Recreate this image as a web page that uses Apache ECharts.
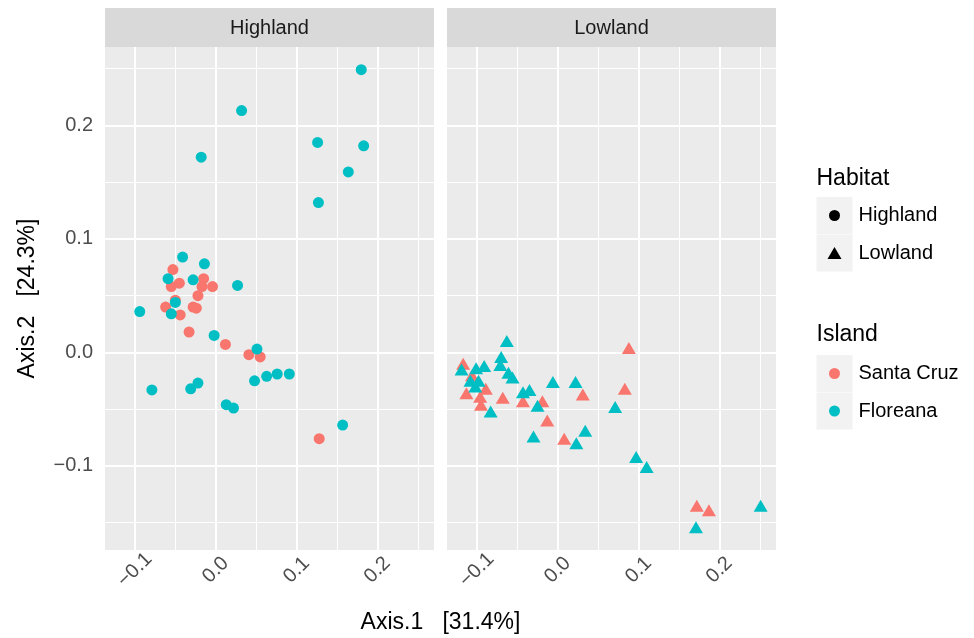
<!DOCTYPE html>
<html>
<head>
<meta charset="utf-8">
<script src="https://cdn.jsdelivr.net/npm/echarts@6/dist/echarts.min.js"></script>
<style>
html,body{margin:0;padding:0;background:#fff;}
#chart{width:974px;height:638px;}
</style>
</head>
<body>
<div id="chart"></div>
<script>
// ---- data ----
const panels = ['Highland', 'Lowland'];
const islands = ['Santa Cruz', 'Floreana'];
const islandColors = ['#F8766D', '#00BFC4'];

const xTicks = [-0.1, 0.0, 0.1, 0.2];
const yTicks = [-0.1, 0.0, 0.1, 0.2];
const xMinor = [-0.05, 0.05, 0.15, 0.25];
const yMinor = [-0.15, -0.05, 0.05, 0.15, 0.25];
const XMIN = -0.137, XMAX = 0.270, YMIN = -0.174, YMAX = 0.269;

// Highland, Santa Cruz
const hscX = [-0.053,-0.045,-0.055,-0.015,-0.017,-0.004,-0.022,-0.050,-0.062,-0.028,-0.024,-0.044,-0.033,0.012,0.041,0.055,0.128];
const hscY = [0.073,0.061,0.058,0.065,0.058,0.058,0.050,0.046,0.040,0.040,0.039,0.033,0.018,0.007,-0.002,-0.004,-0.076];
// Highland, Floreana
const hflX = [0.180,0.032,-0.018,0.126,0.183,0.164,0.127,-0.041,-0.014,-0.059,-0.028,0.027,-0.050,-0.094,-0.055,-0.002,0.051,-0.079,-0.031,-0.022,0.048,0.063,0.076,0.091,0.013,0.022,0.157];
const hflY = [0.249,0.213,0.172,0.185,0.182,0.159,0.132,0.084,0.078,0.065,0.064,0.059,0.044,0.036,0.034,0.015,0.003,-0.033,-0.032,-0.027,-0.025,-0.021,-0.019,-0.019,-0.046,-0.049,-0.064];
// Lowland, Santa Cruz
const lscX = [0.088,-0.117,-0.106,0.083,-0.113,-0.089,-0.096,-0.095,-0.068,-0.043,-0.019,0.031,-0.013,0.008,0.172,0.187];
const lscY = [0.004,-0.010,-0.020,-0.032,-0.036,-0.032,-0.039,-0.046,-0.040,-0.043,-0.043,-0.037,-0.060,-0.076,-0.135,-0.139];
// Lowland, Floreana
const lflX = [-0.063,-0.070,-0.071,-0.091,-0.101,-0.119,-0.061,-0.056,-0.108,-0.098,-0.102,-0.006,0.022,-0.035,-0.043,-0.025,-0.083,0.071,-0.030,0.034,0.023,0.097,0.110,0.251,0.171];
const lflY = [0.010,-0.004,-0.011,-0.012,-0.014,-0.015,-0.018,-0.022,-0.025,-0.025,-0.030,-0.026,-0.026,-0.033,-0.035,-0.047,-0.052,-0.048,-0.074,-0.069,-0.080,-0.092,-0.101,-0.135,-0.154];

const xTitle = 'Axis.1   [31.4%]';
const yTitle = 'Axis.2   [24.3%]';

// ---- build ----
const FONT = '"Liberation Sans", Arial, Helvetica, sans-serif';
const zip = (xs, ys) => xs.map((x, i) => [x, ys[i]]);
const fmt = v => (v < 0 ? '\u2212' : '') + Math.abs(v).toFixed(1);

const gridLeft = [105, 447], gridTop = 47, gridW = 329, gridH = 503;

const grids = gridLeft.map(l => ({
  left: l, top: gridTop, width: gridW, height: gridH,
  show: true, backgroundColor: '#EBEBEB', borderWidth: 0, containLabel: false
}));

const xAxes = [0, 1].map(g => ({
  type: 'value', gridIndex: g, min: XMIN, max: XMAX,
  axisLine: { show: false },
  splitLine: { show: false },
  axisTick: { show: true, customValues: xTicks, length: 6, lineStyle: { color: '#333333', width: 1.6 } },
  axisLabel: {
    show: true, customValues: xTicks, rotate: 45, align: 'center', verticalAlign: 'middle',
    margin: 20, fontSize: 20, fontFamily: FONT, color: '#4D4D4D', formatter: fmt
  }
}));

const yAxes = [0, 1].map(g => ({
  type: 'value', gridIndex: g, min: YMIN, max: YMAX, show: g === 0,
  axisLine: { show: false },
  splitLine: { show: false },
  axisTick: { show: g === 0, customValues: yTicks, length: 5, lineStyle: { color: '#333333', width: 1.6 } },
  axisLabel: {
    show: g === 0, customValues: yTicks, margin: 12, fontSize: 20, fontFamily: FONT,
    color: '#4D4D4D', formatter: fmt
  }
}));

function gridLines(g) {
  const major = { color: '#FFFFFF', width: 2, type: 'solid' };
  const minor = { color: '#FFFFFF', width: 1, type: 'solid' };
  const data = [];
  yMinor.forEach(v => data.push({ yAxis: v, lineStyle: minor }));
  xMinor.forEach(v => data.push({ xAxis: v, lineStyle: minor }));
  yTicks.forEach(v => data.push({ yAxis: v, lineStyle: major }));
  xTicks.forEach(v => data.push({ xAxis: v, lineStyle: major }));
  return {
    type: 'scatter', xAxisIndex: g, yAxisIndex: g, data: [], z: 1, silent: true,
    markLine: {
      z: 1, silent: true, symbol: ['none', 'none'], label: { show: false },
      emphasis: { disabled: true }, animation: false, data: data
    }
  };
}

const groups = [
  { g: 0, island: 0, xs: hscX, ys: hscY, sym: 'circle' },
  { g: 0, island: 1, xs: hflX, ys: hflY, sym: 'circle' },
  { g: 1, island: 0, xs: lscX, ys: lscY, sym: 'triangle' },
  { g: 1, island: 1, xs: lflX, ys: lflY, sym: 'triangle' }
];

const series = [gridLines(0), gridLines(1)].concat(groups.map(s => ({
  type: 'scatter', name: panels[s.g] + ' ' + islands[s.island],
  xAxisIndex: s.g, yAxisIndex: s.g, z: 6 + s.island,
  symbol: s.sym, symbolSize: s.sym === 'circle' ? 11 : [14, 12],
  itemStyle: { color: islandColors[s.island], opacity: 1 },
  emphasis: { disabled: true },
  data: zip(s.xs, s.ys)
})));

const graphic = [];
panels.forEach((p, i) => {
  graphic.push({ type: 'rect', shape: { x: gridLeft[i], y: 8, width: gridW, height: 39 }, style: { fill: '#D9D9D9' } });
  graphic.push({ type: 'text', x: gridLeft[i] + gridW / 2, y: 28,
    style: { text: p, fontSize: 20, fontFamily: FONT, fill: '#1A1A1A', align: 'center', verticalAlign: 'middle' } });
});
graphic.push({ type: 'text', x: 440.5, y: 623,
  style: { text: xTitle, fontSize: 23, fontFamily: FONT, fill: '#000', align: 'center', verticalAlign: 'middle' } });
graphic.push({ type: 'text', x: 28, y: 298.5, rotation: Math.PI / 2,
  style: { text: yTitle, fontSize: 23, fontFamily: FONT, fill: '#000', align: 'center', verticalAlign: 'middle' } });

// legend
const LX = 816.5, KW = 36, KH = 37;
function legendTitle(t, y) {
  graphic.push({ type: 'text', x: LX, y: y,
    style: { text: t, fontSize: 23, fontFamily: FONT, fill: '#000', align: 'left', verticalAlign: 'middle' } });
}
function legendKey(y, label, shape, color) {
  graphic.push({ type: 'rect', shape: { x: LX, y: y, width: KW, height: KH }, style: { fill: '#F2F2F2' } });
  const cx = LX + KW / 2, cy = y + KH / 2;
  if (shape === 'circle') {
    graphic.push({ type: 'circle', shape: { cx: cx, cy: cy, r: 5.5 }, style: { fill: color } });
  } else {
    graphic.push({ type: 'polygon', shape: { points: [[cx, cy - 6], [cx - 7, cy + 6], [cx + 7, cy + 6]] }, style: { fill: color } });
  }
  graphic.push({ type: 'text', x: LX + KW + 6, y: cy,
    style: { text: label, fontSize: 20, fontFamily: FONT, fill: '#000', align: 'left', verticalAlign: 'middle' } });
}
legendTitle('Habitat', 179);
legendKey(197, panels[0], 'circle', '#000');
legendKey(234.5, panels[1], 'triangle', '#000');
legendTitle('Island', 335);
legendKey(355, islands[0], 'circle', islandColors[0]);
legendKey(392.5, islands[1], 'circle', islandColors[1]);

const chart = echarts.init(document.getElementById('chart'), null, { renderer: 'canvas' });
chart.setOption({
  animation: false,
  backgroundColor: '#FFFFFF',
  grid: grids,
  xAxis: xAxes,
  yAxis: yAxes,
  series: series,
  graphic: graphic
});
</script>
</body>
</html>
